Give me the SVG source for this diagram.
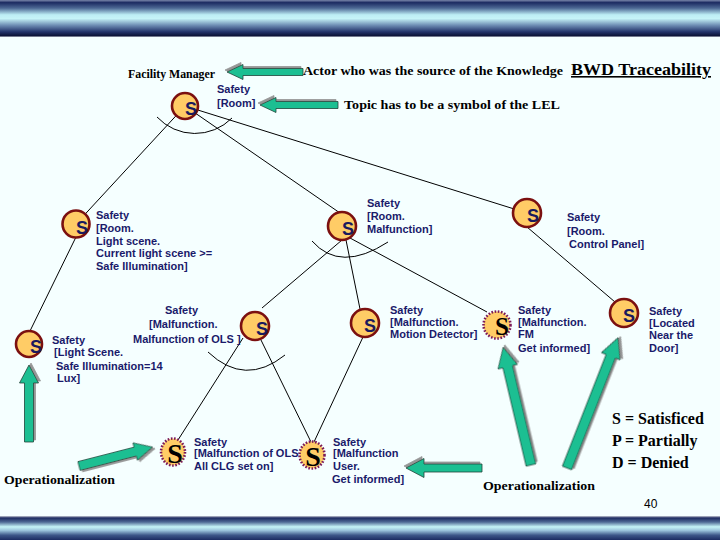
<svg xmlns="http://www.w3.org/2000/svg" width="720" height="540" viewBox="0 0 720 540">
<defs>
<linearGradient id="band" x1="0" y1="0" x2="0" y2="1">
<stop offset="0" stop-color="#7a86aa"/>
<stop offset="0.07" stop-color="#1c2b62"/>
<stop offset="0.22" stop-color="#4d6894"/>
<stop offset="0.4" stop-color="#bdeef5"/>
<stop offset="0.5" stop-color="#c6f4f8"/>
<stop offset="0.68" stop-color="#6f8fb5"/>
<stop offset="0.86" stop-color="#22336a"/>
<stop offset="0.97" stop-color="#0b1236"/>
<stop offset="1" stop-color="#c8cdd6"/>
</linearGradient>
<linearGradient id="band2" x1="0" y1="0" x2="0" y2="1">
<stop offset="0" stop-color="#c8cdd6"/>
<stop offset="0.08" stop-color="#1c2b62"/>
<stop offset="0.25" stop-color="#4d6894"/>
<stop offset="0.45" stop-color="#c6f4f8"/>
<stop offset="0.6" stop-color="#9cc4dc"/>
<stop offset="0.8" stop-color="#3d5688"/>
<stop offset="1" stop-color="#1c2b62"/>
</linearGradient>
<filter id="sh" x="-20%" y="-20%" width="140%" height="140%">
<feDropShadow dx="2" dy="2" stdDeviation="0.6" flood-color="#8a8a8a" flood-opacity="0.9"/>
</filter>
<style>
.bg{fill:#f5ffff}
.ln{stroke:#000;stroke-width:1;fill:none}
.arc{stroke:#000;stroke-width:1;fill:none}
.node{fill:#ffcc66;stroke:#7b1010;stroke-width:2.6}
.dot{fill:#ffcc66;stroke:#7a1a5a;stroke-width:2.6;stroke-dasharray:1.6 1.6}
.s{font-family:"Liberation Sans",Arial,sans-serif;font-weight:bold;font-size:18px;fill:#1a1a5e;text-anchor:middle}
.sd{font-family:"Liberation Serif","Times New Roman",serif;font-weight:bold;fill:#000;text-anchor:middle}
.lbl{font-family:"Liberation Sans",Arial,sans-serif;font-weight:bold;font-size:11px;fill:#1a1a6a}
.ser{font-family:"Liberation Serif","Times New Roman",serif;font-weight:bold;fill:#000}
.arr{fill:#1dbf92;stroke:#22443a;stroke-width:0.8;filter:url(#sh)}
.num{font-family:"Liberation Sans",Arial,sans-serif;font-size:12px;fill:#000}
</style>
</defs>
<rect class="bg" x="0" y="0" width="720" height="540"/>
<rect x="0" y="0" width="720" height="37" fill="url(#band)"/>
<rect x="0" y="516" width="720" height="24" fill="url(#band2)"/>

<g id="connectors">
<line class="ln" x1="185" y1="106" x2="76" y2="224"/>
<line class="ln" x1="185" y1="106" x2="340" y2="213"/>
<line class="ln" x1="185" y1="106" x2="527" y2="213"/>
<line class="ln" x1="76" y1="237" x2="30" y2="331"/>
<line class="ln" x1="342" y1="240" x2="262" y2="308"/>
<line class="ln" x1="346" y1="240" x2="360" y2="309"/>
<line class="ln" x1="350" y1="238" x2="487" y2="312"/>
<line class="ln" x1="527" y1="227" x2="615" y2="302"/>
<line class="ln" x1="243" y1="338" x2="178" y2="440"/>
<line class="ln" x1="260" y1="338" x2="311" y2="442"/>
<line class="ln" x1="363" y1="337" x2="314" y2="442"/>
<path class="arc" d="M157,117 A52,52 0 0 0 232,118"/>
<path class="arc" d="M312,241 Q340,273 388,242"/>
<path class="arc" d="M208,352 Q245,387 285,355"/>
</g>

<g id="n-root"><circle class="node" cx="185" cy="106" r="13"/><text class="s" x="191" y="115">S</text>
<text class="lbl" x="217" y="93">Safety</text><text class="lbl" x="217" y="107">[Room]</text></g>

<g id="n-light"><circle class="node" cx="76" cy="224" r="13.5"/><text class="s" x="82" y="234">S</text>
<text class="lbl" x="96" y="219">Safety</text><text class="lbl" x="96" y="232">[Room.</text><text class="lbl" x="96" y="245">Light scene.</text><text class="lbl" x="96" y="257">Current light scene &gt;=</text><text class="lbl" x="96" y="270">Safe Illumination]</text></g>

<g id="n-malf"><circle class="node" cx="342" cy="226" r="14"/><text class="s" x="348" y="235">S</text>
<text class="lbl" x="367" y="207">Safety</text><text class="lbl" x="367" y="220">[Room.</text><text class="lbl" x="367" y="233">Malfunction]</text></g>

<g id="n-panel"><circle class="node" cx="527" cy="213" r="14"/><text class="s" x="533" y="222">S</text>
<text class="lbl" x="567" y="221">Safety</text><text class="lbl" x="567" y="235">[Room.</text><text class="lbl" x="569" y="248">Control Panel]</text></g>

<g id="n-scene"><circle class="node" cx="29" cy="344" r="13"/><text class="s" x="36" y="353">S</text>
<text class="lbl" x="52" y="344">Safety</text><text class="lbl" x="54" y="356">[Light Scene.</text><text class="lbl" x="56" y="370">Safe Illumination=14</text><text class="lbl" x="57" y="382">Lux]</text></g>

<g id="n-ols"><circle class="node" cx="255" cy="326" r="14"/><text class="s" x="262" y="335">S</text>
<text class="lbl" x="165" y="314">Safety</text><text class="lbl" x="149" y="328">[Malfunction.</text><text class="lbl" x="133" y="343">Malfunction of OLS ]</text></g>

<g id="n-clg"><ellipse class="dot" cx="173" cy="452" rx="12" ry="13.5"/><text class="sd" x="175" y="463" font-size="28">S</text>
<text class="lbl" x="194" y="446">Safety</text><text class="lbl" x="194" y="457">[Malfunction of OLS</text><text class="lbl" x="194" y="470">All CLG set on]</text></g>

<g id="n-user"><ellipse class="dot" cx="312" cy="455" rx="12.5" ry="13.5"/><text class="sd" x="313" y="466" font-size="28">S</text>
<text class="lbl" x="333" y="446">Safety</text><text class="lbl" x="333" y="457">[Malfunction</text><text class="lbl" x="333" y="470">User.</text><text class="lbl" x="332" y="483">Get informed]</text></g>

<g id="n-motion"><circle class="node" cx="365" cy="323" r="14"/><text class="s" x="370" y="332">S</text>
<text class="lbl" x="390" y="314">Safety</text><text class="lbl" x="390" y="326">[Malfunction.</text><text class="lbl" x="390" y="338">Motion Detector]</text></g>

<g id="n-fm"><circle class="dot" cx="497" cy="325" r="13.5"/><text class="sd" x="502" y="335" font-size="25">S</text>
<text class="lbl" x="518" y="314">Safety</text><text class="lbl" x="518" y="326">[Malfunction.</text><text class="lbl" x="518" y="338">FM</text><text class="lbl" x="518" y="352">Get informed]</text></g>

<g id="n-door"><circle class="node" cx="624" cy="313" r="14"/><text class="s" x="629" y="322">S</text>
<text class="lbl" x="649" y="315">Safety</text><text class="lbl" x="649" y="327">[Located</text><text class="lbl" x="649" y="339">Near the</text><text class="lbl" x="649" y="352">Door]</text></g>

<g id="arrows">
<path class="arr" transform="translate(303,72) rotate(180)" d="M0,-3.5H60V-7.5L76,0L60,7.5V3.5H0Z"/>
<path class="arr" transform="translate(338,105) rotate(180)" d="M0,-3.5H62V-7.5L78,0L62,7.5V3.5H0Z"/>
<path class="arr" transform="translate(29,442) rotate(-90)" d="M0,-4.5H59V-9.5L77,0L59,9.5V4.5H0Z"/>
<path class="arr" transform="translate(79,466) rotate(-14.4)" d="M0,-4.5H58V-9L76,0L58,9V4.5H0Z"/>
<path class="arr" transform="translate(482,468) rotate(180)" d="M0,-4H58V-9.5L76,0L58,9.5V4H0Z"/>
<path class="arr" transform="translate(531,465) rotate(-103.3)" d="M0,-5H101V-10L121,0L101,10V5H0Z"/>
<path class="arr" transform="translate(567,468) rotate(-68.6)" d="M0,-5H120V-10L140,0L120,10V5H0Z"/>
</g>

<g id="texts">
<text class="ser" x="128" y="78" font-size="11.5" textLength="87" lengthAdjust="spacingAndGlyphs">Facility Manager</text>
<text class="ser" x="303" y="75" font-size="13" textLength="260" lengthAdjust="spacingAndGlyphs">Actor who was the source of the Knowledge</text>
<text class="ser" x="571" y="75" font-size="16" text-decoration="underline" textLength="140" lengthAdjust="spacingAndGlyphs">BWD Traceability</text>
<text class="ser" x="344" y="109" font-size="13" textLength="216" lengthAdjust="spacingAndGlyphs">Topic has to be a symbol of the LEL</text>
<text class="ser" x="4" y="484" font-size="13" textLength="111" lengthAdjust="spacingAndGlyphs">Operationalization</text>
<text class="ser" x="483" y="490" font-size="13" textLength="112" lengthAdjust="spacingAndGlyphs">Operationalization</text>
<text class="ser" x="612" y="424" font-size="16">S = Satisficed</text>
<text class="ser" x="612" y="446" font-size="16">P = Partially</text>
<text class="ser" x="612" y="468" font-size="16">D = Denied</text>
<text class="num" x="644" y="508">40</text>
</g>
</svg>
